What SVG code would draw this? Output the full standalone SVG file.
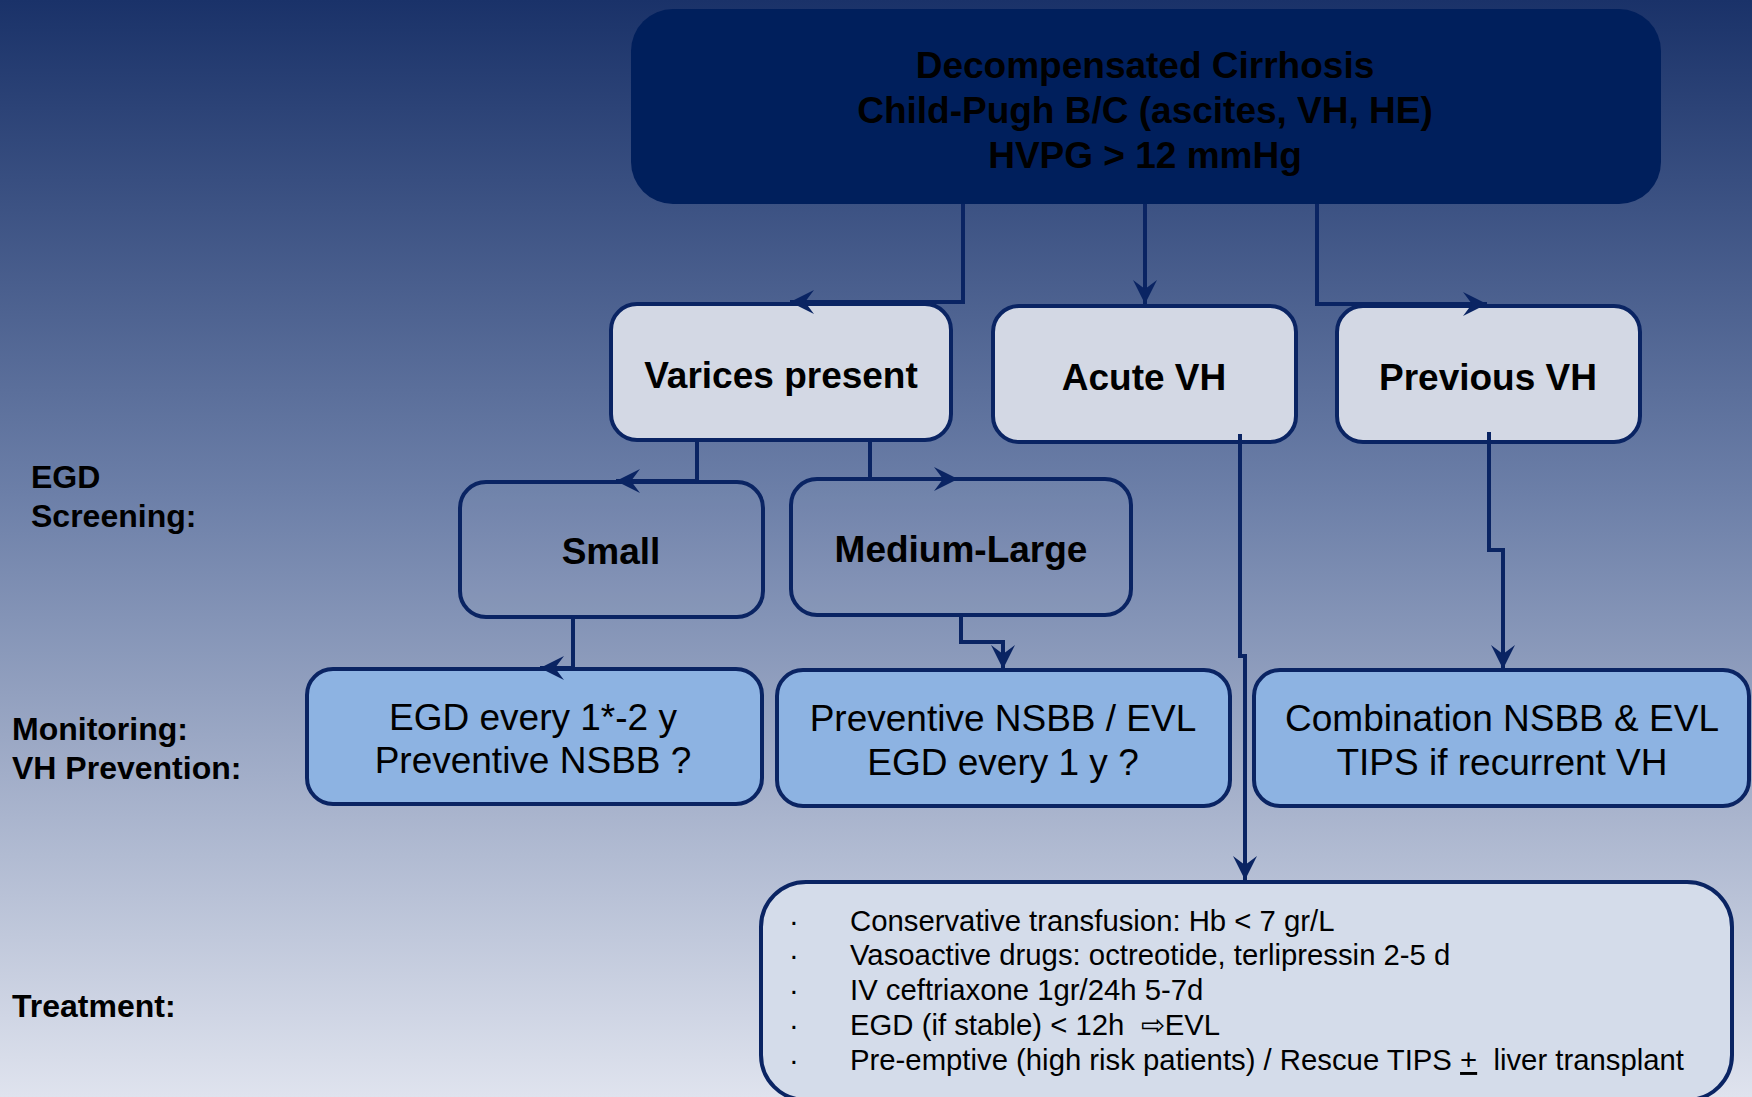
<svg xmlns="http://www.w3.org/2000/svg" width="1752" height="1097" viewBox="0 0 1752 1097">
<defs>
<linearGradient id="bg" x1="0" y1="0" x2="0" y2="1">
<stop offset="0" stop-color="#1a3269"/>
<stop offset="0.45" stop-color="#6c7fa8"/>
<stop offset="1" stop-color="#dfe3ee"/>
</linearGradient>
<marker id="arr" viewBox="-26 -14 28 28" markerWidth="28" markerHeight="28" refX="0" refY="0" orient="auto" markerUnits="userSpaceOnUse">
<path d="M0,0 L-24,-12 L-15,0 L-24,12 Z" fill="#0a2463"/>
</marker>
<style>
.lbl{font-family:"Liberation Sans",Arial,sans-serif;font-weight:bold;font-size:32px;fill:#000}
.hd{font-family:"Liberation Sans",Arial,sans-serif;font-weight:bold;font-size:37px;fill:#000;text-anchor:middle}
.rg{font-family:"Liberation Sans",Arial,sans-serif;font-size:37px;fill:#000;text-anchor:middle}
.sm{font-family:"Liberation Sans",Arial,sans-serif;font-size:29.3px;fill:#000;white-space:pre}
.box{stroke:#0a2463;stroke-width:4}
.conn{fill:none;stroke:#0a2463;stroke-width:4;marker-end:url(#arr)}
</style>
</defs>
<rect x="0" y="0" width="1752" height="1097" fill="url(#bg)"/>

<g id="labels">
<text class="lbl" x="31" y="488">EGD</text>
<text class="lbl" x="31" y="527">Screening:</text>
<text class="lbl" x="12" y="740">Monitoring:</text>
<text class="lbl" x="12" y="779">VH Prevention:</text>
<text class="lbl" x="12" y="1017">Treatment:</text>
</g>

<g id="n-top">
<rect x="631" y="9" width="1030" height="195" rx="42" fill="#001f5c"/>
<text class="hd" x="1145" y="78">Decompensated Cirrhosis</text>
<text class="hd" x="1145" y="123">Child-Pugh B/C (ascites, VH, HE)</text>
<text class="hd" x="1145" y="168">HVPG &gt; 12 mmHg</text>
</g>

<g id="n-varices">
<rect class="box" x="611" y="304" width="340" height="136" rx="26" fill="#d3d8e4"/>
<text class="hd" x="781" y="388">Varices present</text>
</g>
<g id="n-acute">
<rect class="box" x="993" y="306" width="303" height="136" rx="26" fill="#d3d8e4"/>
<text class="hd" x="1144" y="390">Acute VH</text>
</g>
<g id="n-previous">
<rect class="box" x="1337" y="306" width="303" height="136" rx="26" fill="#d3d8e4"/>
<text class="hd" x="1488" y="390">Previous VH</text>
</g>

<g id="n-small">
<rect class="box" x="460" y="482" width="303" height="135" rx="26" fill="#ffffff" fill-opacity="0.04"/>
<text class="hd" x="611" y="564">Small</text>
</g>
<g id="n-medium">
<rect class="box" x="791" y="479" width="340" height="136" rx="26" fill="#ffffff" fill-opacity="0.04"/>
<text class="hd" x="961" y="562">Medium-Large</text>
</g>

<g id="n-mon-small">
<rect class="box" x="307" y="669" width="455" height="135" rx="26" fill="#8db3e2"/>
<text class="rg" x="533" y="730">EGD every 1*-2 y</text>
<text class="rg" x="533" y="773">Preventive NSBB ?</text>
</g>
<g id="n-mon-medium">
<rect class="box" x="777" y="670" width="453" height="136" rx="26" fill="#8db3e2"/>
<text class="rg" x="1003" y="731">Preventive NSBB / EVL</text>
<text class="rg" x="1003" y="775">EGD every 1 y ?</text>
</g>
<g id="n-mon-previous">
<rect class="box" x="1254" y="670" width="495" height="136" rx="26" fill="#8db3e2"/>
<text class="rg" x="1502" y="731">Combination NSBB &amp; EVL</text>
<text class="rg" x="1502" y="775">TIPS if recurrent VH</text>
</g>

<g id="n-treatment">
<rect class="box" x="761" y="882" width="971" height="218" rx="45" fill="#d4dcea"/>
<text class="sm" x="789" y="931">·</text>
<text class="sm" x="789" y="965">·</text>
<text class="sm" x="789" y="1000">·</text>
<text class="sm" x="789" y="1035">·</text>
<text class="sm" x="789" y="1070">·</text>
<text class="sm" x="850" y="931">Conservative transfusion: Hb &lt; 7 gr/L</text>
<text class="sm" x="850" y="965">Vasoactive drugs: octreotide, terlipressin 2-5 d</text>
<text class="sm" x="850" y="1000">IV ceftriaxone 1gr/24h 5-7d</text>
<text class="sm" x="850" y="1035">EGD (if stable) &lt; 12h  ⇨EVL</text>
<text class="sm" x="850" y="1070">Pre-emptive (high risk patients) / Rescue TIPS <tspan text-decoration="underline">+</tspan>  liver transplant</text>
</g>

<g id="connectors">
<path class="conn" d="M963,204 V302 H790"/>
<path class="conn" d="M1145,204 V304"/>
<path class="conn" d="M1317,204 V304 H1487"/>
<path class="conn" d="M697,440 V481 H616"/>
<path class="conn" d="M870,440 V479 H958"/>
<path class="conn" d="M573,617 V668 H540"/>
<path class="conn" d="M961,615 V642 H1003 V669"/>
<path class="conn" d="M1240,434 V656 H1245 V880"/>
<path class="conn" d="M1489,432 V550 H1503 V669"/>
</g>
</svg>
